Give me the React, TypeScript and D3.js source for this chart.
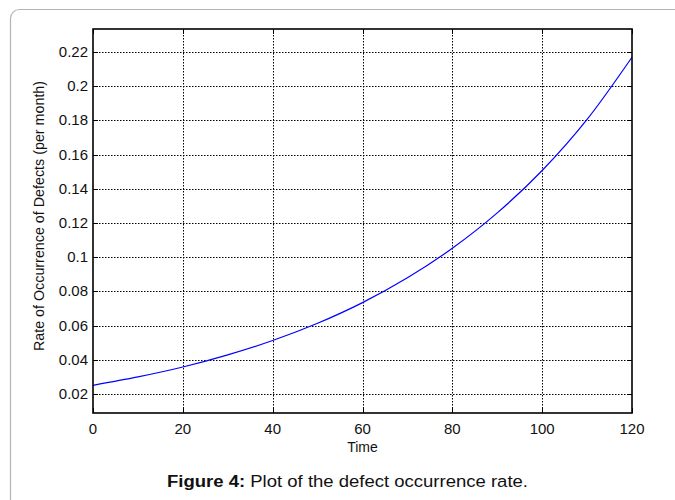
import React, { useEffect, useRef } from "react";
import * as d3 from "d3";

const months = [0, 10, 20, 30, 40, 50, 60, 70, 80, 90, 100, 110, 120];
const rates = [0.0250, 0.0299, 0.0357, 0.0428, 0.0512, 0.0613, 0.0734, 0.0879, 0.1052, 0.1259, 0.1507, 0.1806, 0.2170];
const xTicks = [0, 20, 40, 60, 80, 100, 120];
const yTicks = [0.02, 0.04, 0.06, 0.08, 0.1, 0.12, 0.14, 0.16, 0.18, 0.2, 0.22];
const xLabel = "Time";
const yLabel = "Rate of Occurrence of Defects (per month)";
const captionBold = "Figure 4:";
const captionRest = " Plot of the defect occurrence rate.";

const W = 675, H = 500;
const L = 93, R = 632, T = 29, B = 413;

export default function App() {
  const ref = useRef<SVGSVGElement>(null);
  useEffect(() => {
    const svg = d3.select(ref.current);
    svg.selectAll("*").remove();
    const font = "'Liberation Sans', Arial, sans-serif";
    const x = d3.scaleLinear().domain([0, 120]).range([L, R]);
    const y = d3.scaleLinear().domain([0.0088, 0.2335]).range([B, T]);

    svg.append("rect").attr("width", W).attr("height", H).attr("fill", "#fff");
    svg.append("rect").attr("x", 10.5).attr("y", 9.5).attr("width", W + 20).attr("height", H + 20)
      .attr("rx", 9).attr("fill", "none").attr("stroke", "#b4b4b4").attr("stroke-width", 1.2);

    const g = svg.append("g");
    g.selectAll(".gx").data(xTicks.slice(1, -1)).join("line")
      .attr("x1", d => Math.round(x(d)) + 0.5).attr("x2", d => Math.round(x(d)) + 0.5)
      .attr("y1", T).attr("y2", B).attr("stroke", "#000").attr("stroke-width", 1)
      .attr("stroke-dasharray", "1.5,1.5");
    g.selectAll(".gy").data(yTicks).join("line")
      .attr("y1", d => Math.round(y(d)) + 0.5).attr("y2", d => Math.round(y(d)) + 0.5)
      .attr("x1", L).attr("x2", R).attr("stroke", "#000").attr("stroke-width", 1)
      .attr("stroke-dasharray", "1.5,1.5");

    const tl = 5;
    xTicks.forEach(t => {
      const xx = Math.round(x(t)) + 0.5;
      g.append("line").attr("x1", xx).attr("x2", xx).attr("y1", B).attr("y2", B - tl).attr("stroke", "#000");
      g.append("line").attr("x1", xx).attr("x2", xx).attr("y1", T).attr("y2", T + tl).attr("stroke", "#000");
    });
    yTicks.forEach(t => {
      const yy = Math.round(y(t)) + 0.5;
      g.append("line").attr("y1", yy).attr("y2", yy).attr("x1", L).attr("x2", L + tl).attr("stroke", "#000");
      g.append("line").attr("y1", yy).attr("y2", yy).attr("x1", R).attr("x2", R - tl).attr("stroke", "#000");
    });

    const line = d3.line<number>().x((_, i) => x(months[i])).y(d => y(d)).curve(d3.curveMonotoneX);
    g.append("path").attr("d", line(rates)).attr("fill", "none").attr("stroke", "#0000ff").attr("stroke-width", 1.2);

    g.append("rect").attr("x", L).attr("y", T).attr("width", R - L).attr("height", B - T)
      .attr("fill", "none").attr("stroke", "#000").attr("stroke-width", 1.6);

    g.selectAll(".xl").data(xTicks).join("text")
      .attr("x", d => x(d)).attr("y", 433.5).attr("text-anchor", "middle")
      .attr("font-family", font).attr("font-size", 15).attr("fill", "#111").text(d => String(d));
    g.selectAll(".yl").data(yTicks).join("text")
      .attr("x", 88).attr("y", d => y(d) + 5).attr("text-anchor", "end")
      .attr("font-family", font).attr("font-size", 15).attr("fill", "#111").text(d => String(d));

    g.append("text").attr("x", (L + R) / 2).attr("y", 451.5).attr("text-anchor", "middle")
      .attr("font-family", font).attr("font-size", 14).attr("fill", "#111").text(xLabel);
    g.append("text").attr("transform", `translate(44,216) rotate(-90)`)
      .attr("text-anchor", "middle").attr("font-family", font).attr("font-size", 14.3)
      .attr("fill", "#111").text(yLabel);

    const cap = svg.append("text").attr("x", 167).attr("y", 486.5)
      .attr("textLength", 361).attr("lengthAdjust", "spacingAndGlyphs")
      .attr("font-family", font).attr("font-size", 16.3).attr("fill", "#111");
    cap.append("tspan").attr("font-weight", "bold").text(captionBold);
    cap.append("tspan").text(captionRest);
  }, []);
  return (
    <svg ref={ref} width={W} height={H} style={{ position: "absolute", left: 0, top: 0 }} />
  );
}
